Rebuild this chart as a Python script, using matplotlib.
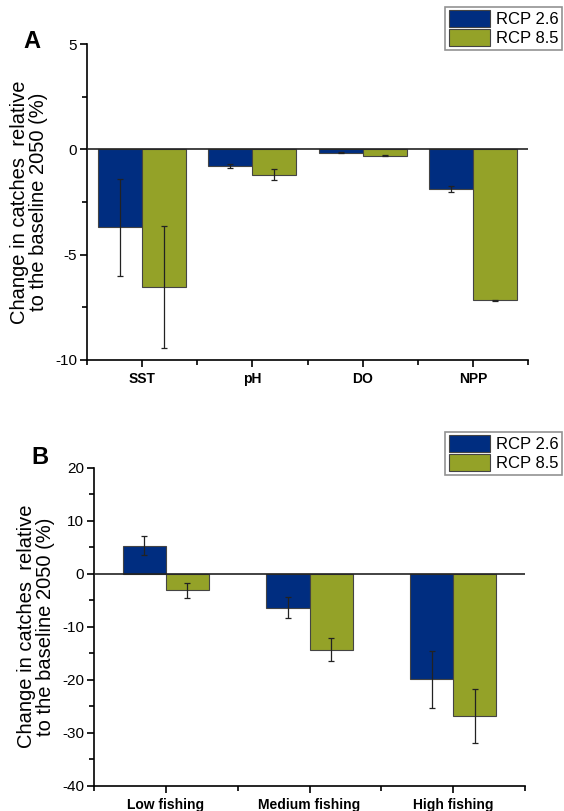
import matplotlib.pyplot as plt
import numpy as np
from matplotlib.ticker import MultipleLocator, FixedLocator

plt.rcParams['font.family'] = ['Liberation Sans', 'DejaVu Sans']
plt.rcParams['axes.unicode_minus'] = False

series = ['RCP 2.6', 'RCP 8.5']
colors = ['#002d80', '#94a228']

# panel A: climate drivers
cats_a = ['SST', 'pH', 'DO', 'NPP']
rcp26_a = [-3.7, -0.79, -0.17, -1.88]
rcp26_a_err = [2.3, 0.11, 0.02, 0.16]
rcp85_a = [-6.55, -1.2, -0.3, -7.17]
rcp85_a_err = [2.9, 0.27, 0.02, 0.01]

# panel B: fishing scenarios
cats_b = ['Low fishing', 'Medium fishing', 'High fishing']
rcp26_b = [5.3, -6.4, -19.9]
rcp26_b_err = [1.75, 2.05, 5.35]
rcp85_b = [-3.15, -14.35, -26.9]
rcp85_b_err = [1.4, 2.2, 5.1]

ylabel = 'Change in catches  relative\nto the baseline 2050 (%)'

fig = plt.figure(figsize=(5.64, 8.11), dpi=100)
ax_a = fig.add_axes([87/564, 1-360/811, (528-87)/564, (360-44)/811])
ax_b = fig.add_axes([94/564, 1-785.7/811, (525-94)/564, (785.7-467.7)/811])


def draw(ax, cats, v1, e1, v2, e2, width, ylim, major, minor):
    x = np.arange(1, len(cats) + 1)
    for off, vals, errs, c, lab in [(-width/2, v1, e1, colors[0], series[0]),
                                    (width/2, v2, e2, colors[1], series[1])]:
        ax.bar(x + off, vals, width, color=c, edgecolor='#444444', linewidth=0.8,
               label=lab, zorder=2)
        ax.errorbar(x + off, vals, yerr=errs, fmt='none', ecolor='#222222',
                    elinewidth=0.9, capsize=2.5, capthick=0.9, zorder=3)
    ax.axhline(0, color='#222222', linewidth=1.2, zorder=4)
    ax.set_xlim(0.5, len(cats) + 0.5)
    ax.set_ylim(*ylim)
    ax.set_xticks(x)
    ax.set_xticklabels(cats, fontsize=10, fontweight='bold')
    ax.xaxis.set_minor_locator(FixedLocator(np.arange(0.5, len(cats) + 1, 1)))
    ax.yaxis.set_major_locator(MultipleLocator(major))
    ax.yaxis.set_minor_locator(MultipleLocator(minor))
    ax.tick_params(axis='y', labelsize=11, pad=2)
    ax.tick_params(which='major', length=5, width=1.2, direction='out')
    ax.tick_params(which='minor', length=3.5, width=1.2, direction='out')
    for s in ['top', 'right']:
        ax.spines[s].set_visible(False)
    for s in ['left', 'bottom']:
        ax.spines[s].set_linewidth(1.2)
    ax.set_ylabel(ylabel, fontsize=14.5, labelpad=5, linespacing=1.0)


draw(ax_a, cats_a, rcp26_a, rcp26_a_err, rcp85_a, rcp85_a_err, 0.4, (-10, 5), 5, 2.5)
draw(ax_b, cats_b, rcp26_b, rcp26_b_err, rcp85_b, rcp85_b_err, 0.3, (-40, 20), 10, 5)

for ax, top in [(ax_a, 7), (ax_b, 432)]:
    leg = fig.legend(*ax.get_legend_handles_labels(), loc='upper right',
                     bbox_to_anchor=(562/564, 1 - top/811), fontsize=12,
                     frameon=True, fancybox=False, edgecolor='#777777',
                     handlelength=2.5, handleheight=1.15, handletextpad=0.35,
                     labelspacing=0.12, borderpad=0.2, borderaxespad=0)
    leg.get_frame().set_linewidth(1.2)

fig.text(32/564, 1-42/811, 'A', fontsize=17, fontweight='bold', va='center', ha='center')
fig.text(40/564, 1-458/811, 'B', fontsize=17, fontweight='bold', va='center', ha='center')

plt.savefig('out.png', dpi=100)
